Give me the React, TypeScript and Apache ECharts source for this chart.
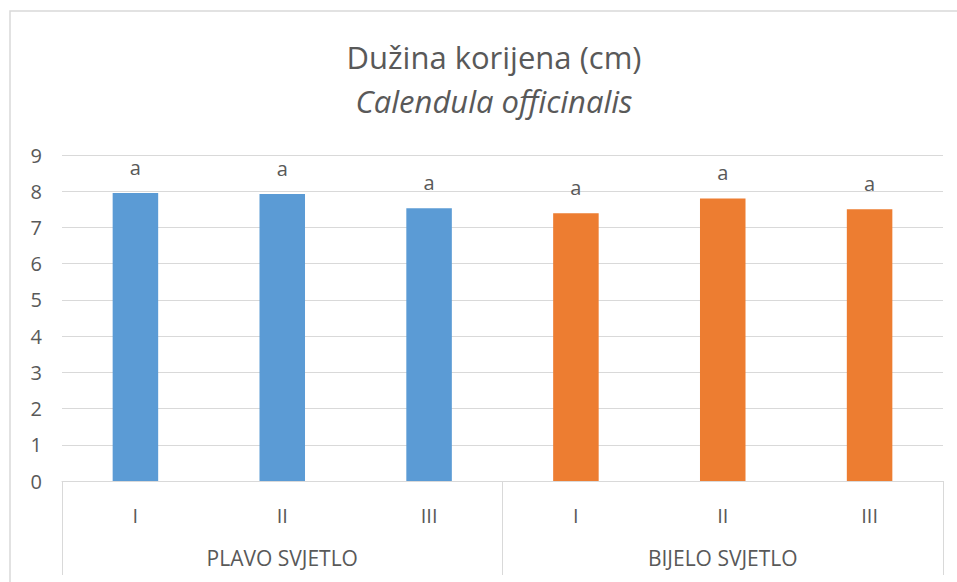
import React, { useEffect, useRef } from "react";
import * as echarts from "echarts";

const categories = ["I", "II", "III", "I", "II", "III"];
const groups = ["PLAVO SVJETLO", "BIJELO SVJETLO"];
const values = [7.95, 7.92, 7.53, 7.39, 7.8, 7.5];
const letters = ["a", "a", "a", "a", "a", "a"];
const barColors = ["#5B9BD5", "#5B9BD5", "#5B9BD5", "#ED7D31", "#ED7D31", "#ED7D31"];
const titleText = "Dužina korijena (cm)";
const subtitleText = "Calendula officinalis";

const FONT = "'Open Sans', 'Noto Sans', sans-serif";
const TXT = "#595959";

export default function App() {
  const ref = useRef<HTMLDivElement>(null);
  useEffect(() => {
    if (!ref.current) return;
    const chart = echarts.init(ref.current, undefined, { renderer: "svg" });
    chart.setOption({
      animation: false,
      backgroundColor: "#ffffff",
      title: [
        {
          text: titleText,
          left: 489,
          top: 36,
          textAlign: "center",
          textStyle: { fontFamily: FONT, fontSize: 31, fontWeight: "normal", color: TXT },
        },
        {
          text: subtitleText,
          left: 489,
          top: 80,
          textAlign: "center",
          textStyle: { fontFamily: FONT, fontSize: 31, fontWeight: "normal", fontStyle: "italic", color: TXT },
        },
      ],
      graphic: [
        {
          type: "rect",
          shape: { x: 10, y: 11, width: 980, height: 600 },
          style: { fill: "none", stroke: "#d9d9d9", lineWidth: 1.5 },
          silent: true,
        },
      ],
      grid: { left: 62, right: 14, top: 155, bottom: 101 },
      xAxis: [
        {
          type: "category",
          data: categories,
          position: "bottom",
          axisLine: { show: true, lineStyle: { color: "#d9d9d9", width: 1 } },
          axisTick: { show: false },
          axisLabel: { color: TXT, fontFamily: FONT, fontSize: 20, margin: 24 },
        },
        {
          type: "category",
          data: groups,
          position: "bottom",
          axisLine: { show: false },
          axisTick: { show: true, length: 94, lineStyle: { color: "#d9d9d9", width: 1 } },
          axisLabel: { color: TXT, fontFamily: FONT, fontSize: 21, margin: 66 },
        },
      ],
      yAxis: {
        type: "value",
        min: 0,
        max: 9,
        interval: 1,
        axisLine: { show: false },
        axisTick: { show: false },
        axisLabel: { color: TXT, fontFamily: FONT, fontSize: 20, margin: 20 },
        splitLine: { show: true, lineStyle: { color: "#d9d9d9", width: 1 } },
      },
      series: [
        {
          type: "bar",
          xAxisIndex: 0,
          barWidth: "31%",
          data: values.map((v, i) => ({
            value: v,
            itemStyle: { color: barColors[i] },
            label: {
              show: true,
              position: "top",
              distance: 16,
              formatter: letters[i],
              color: TXT,
              fontFamily: FONT,
              fontSize: 20,
            },
          })),
        },
      ],
    });
    return () => chart.dispose();
  }, []);
  return (
    <div
      ref={ref}
      style={{ position: "absolute", left: 0, top: 0, width: 957, height: 582 }}
    />
  );
}
